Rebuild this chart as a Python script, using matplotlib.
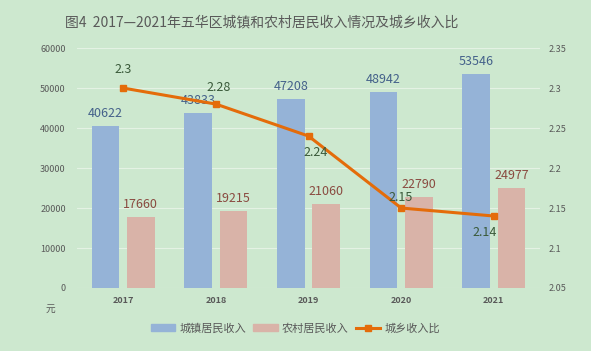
import numpy as np
import matplotlib.pyplot as plt
from matplotlib.lines import Line2D
from matplotlib.patches import Patch

plt.rcParams['font.family'] = ['Noto Sans CJK SC', 'DejaVu Sans']

years = ['2017', '2018', '2019', '2020', '2021']
urban = [40622, 43833, 47208, 48942, 53546]
rural = [17660, 19215, 21060, 22790, 24977]
ratio = [2.30, 2.28, 2.24, 2.15, 2.14]
ratio_labels = ['2.3', '2.28', '2.24', '2.15', '2.14']

bg = '#cde8cf'
blue = '#95b3d7'
pink = '#d9b3a8'
orange = '#e46c0a'

fig = plt.figure(figsize=(5.91, 3.51), dpi=100, facecolor=bg)
ax = fig.add_axes([0.13, 0.1795, 0.784, 0.6835], facecolor=bg)
ax2 = ax.twinx()

x = np.arange(len(years))
w = 0.3
ax.bar(x - 0.19, urban, w, color=blue, zorder=2)
ax.bar(x + 0.19, rural, w, color=pink, zorder=2)
for i in range(len(years)):
    ax.text(x[i] - 0.19, urban[i] + 1500, str(urban[i]), ha='center', va='bottom',
            fontsize=9, color='#44618a')
    ax.text(x[i] + 0.19, rural[i] + 1500, str(rural[i]), ha='center', va='bottom',
            fontsize=9, color='#8a4a40')

ax.set_ylim(0, 60000)
ax.set_yticks(range(0, 60001, 10000))
ax.set_xlim(-0.5, 4.5)
ax.set_xticks(x)
ax.set_xticklabels(years, fontsize=6.5, color='#595959', fontweight='bold')
ax.tick_params(axis='y', labelsize=6.5, labelcolor='#595959', length=0, pad=8)
ax.tick_params(axis='x', length=0, pad=6)
ax.grid(axis='y', color='#e4f2e4', linewidth=0.8, zorder=0)
ax.set_axisbelow(True)
for s in ax.spines.values():
    s.set_visible(False)
for s in ax2.spines.values():
    s.set_visible(False)

ax2.plot(x, ratio, color=orange, linewidth=2.2, marker='s', markersize=5, zorder=3)
ax2.set_ylim(2.05, 2.35)
ax2.set_yticks([2.05, 2.1, 2.15, 2.2, 2.25, 2.3, 2.35])
ax2.set_yticklabels(['2.05', '2.1', '2.15', '2.2', '2.25', '2.3', '2.35'])
ax2.tick_params(axis='y', labelsize=6.5, labelcolor='#595959', length=0, pad=6)

offsets = [(0.0, 0.015, 'bottom'), (0.03, 0.012, 'bottom'), (0.08, -0.012, 'top'),
           (0.0, 0.005, 'bottom'), (-0.1, -0.012, 'top')]
for i, (dx, dy, va) in enumerate(offsets):
    ax2.text(x[i] + dx, ratio[i] + dy, ratio_labels[i], ha='center', va=va,
             fontsize=9, color='#3a5a3a')

fig.text(0.442, 0.935, '图4  2017—2021年五华区城镇和农村居民收入情况及城乡收入比',
         ha='center', va='center', fontsize=10, color='#595959')
fig.text(0.085, 0.12, '元', ha='center', va='center', fontsize=7, color='#595959')

handles = [Patch(color=blue), Patch(color=pink),
           Line2D([0], [0], color=orange, linewidth=2.2, marker='s', markersize=4)]
fig.legend(handles, ['城镇居民收入', '农村居民收入', '城乡收入比'], loc='center',
           bbox_to_anchor=(0.5, 0.065), ncol=3, frameon=False, fontsize=8,
           labelcolor='#595959', handlelength=2.2, columnspacing=0.6, handletextpad=0.4)

fig.savefig('out.png', dpi=100, facecolor=bg)
